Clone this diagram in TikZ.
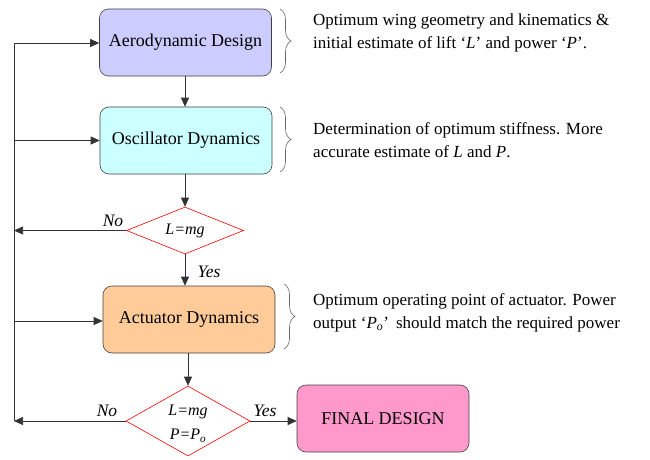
\documentclass[tikz,border=0pt]{standalone}
\usepackage{fontspec}
\setmainfont{Liberation Serif}
\usetikzlibrary{arrows.meta,shapes.geometric,decorations.pathreplacing}
\begin{document}
\begin{tikzpicture}[x=1pt,y=-1pt,
  every node/.style={font=\fontsize{17}{23}\selectfont},
  box/.style={draw=black!75, rounded corners=9pt, minimum width=172pt, minimum height=67pt, inner sep=0pt, line width=0.6pt, font=\fontsize{18}{23}\selectfont},
  dec/.style={draw=red, fill=white, diamond, aspect=2.5, inner sep=0pt, line width=0.6pt},
  arr/.style={draw=black!80, line width=0.6pt, -{Triangle[length=9pt,width=8pt]}},
  ln/.style={draw=black!80, line width=0.6pt},
  brc/.style={draw=black!60, line width=0.6pt, decorate, decoration={brace, amplitude=11pt}},
  note/.style={anchor=west, align=left, inner sep=0pt},
  lbl/.style={font=\fontsize{17.5}{18}\selectfont\itshape, inner sep=0pt}
]
\useasboundingbox (0,0) rectangle (650,460);
\node[box, fill={rgb,255:red,204;green,204;blue,255}] (aero) at (185.5,42.5) {Aerodynamic Design};
\node[box, fill={rgb,255:red,204;green,255;blue,255}] (osc) at (186,140.5) {Oscillator Dynamics};
\node[dec, minimum width=117pt, minimum height=47pt, font=\fontsize{16}{20}\selectfont\itshape] (d1) at (185,230.5) {L=mg};
\node[box, fill={rgb,255:red,255;green,204;blue,153}] (act) at (189,319.5) {Actuator Dynamics};
\node[dec, minimum width=124pt, minimum height=70pt] (d2) at (188,421) {};
\node[align=center, inner sep=0pt, font=\fontsize{16}{24}\selectfont\itshape] (d2t) at (188,424) {L=mg\\P=P\textsubscript{o}};
\node[box, fill={rgb,255:red,255;green,153;blue,204}] (fin) at (383,418.5) {FINAL DESIGN};

\coordinate (l0) at (14,43);
\coordinate (l1) at (14,140.5);
\coordinate (l2) at (14,230.5);
\coordinate (l3) at (14,321);
\coordinate (l4) at (14,421);

\draw[ln] (l0) -- (l4);
\draw[arr] (l0) -- (aero.west |- l0);
\draw[arr] (l1) -- (osc.west |- l1);
\draw[arr] (l3) -- (act.west |- l3);
\draw[arr] (aero.south -| 185,0) -- (osc.north -| 185,0);
\draw[arr] (osc.south -| 185,0) -- (d1.north);
\draw[arr] (d1.south) -- (act.north -| 185,0);
\draw[arr] (act.south -| 188,0) -- (d2.north);
\draw[arr] (d1.west) -- (l2);
\draw[arr] (d2.west) -- (l4);
\draw[arr] (d2.east) -- (fin.west |- d2.east);

\node[lbl] at (113,221) {No};
\node[lbl] at (107,411) {No};
\node[lbl] at (209,272) {Yes};
\node[lbl] at (265,411) {Yes};

\draw[brc] (280,9) -- (280,73);
\draw[brc] (280,107) -- (280,172);
\draw[brc] (284,284) -- (284,349);

\node[note] at (313,32.5) {Optimum wing geometry and kinematics \&\\initial estimate of lift \symbol{96}\textit{L}\symbol{39} and power \symbol{96}\textit{P}\symbol{39}.};
\node[note] at (313,140.5) {Determination of optimum stiffness. More\\accurate estimate of \textit{L} and \textit{P}.};
\node[note] at (313,312.5) {Optimum operating point of actuator. Power\\output \symbol{96}\textit{P}\textsubscript{\textit{o}}\symbol{39}\, should match the required power};
\end{tikzpicture}
\end{document}
